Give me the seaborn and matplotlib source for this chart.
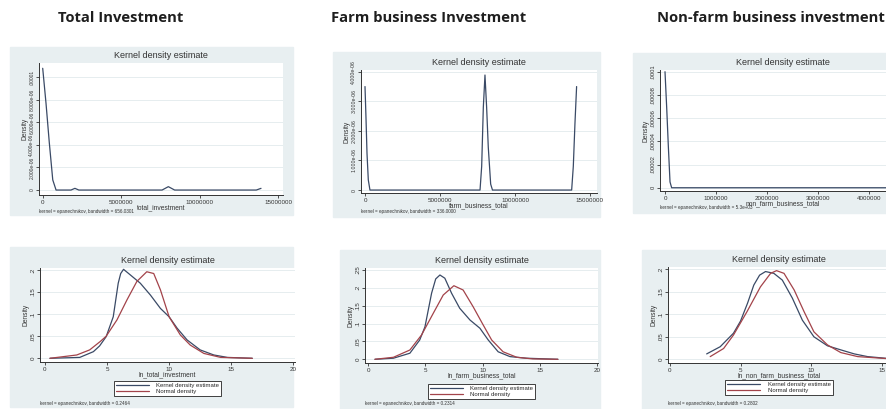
import matplotlib
matplotlib.use("Agg")
import pandas as pd
import matplotlib.pyplot as plt
from matplotlib.patches import Rectangle
from matplotlib.lines import Line2D
import seaborn as sns

W, H = 887, 409

headings = ["Total Investment", "Farm business Investment", "Non-farm business investment"]

# top row: kernel density of the raw amounts
raw_vars = ["total_investment", "farm_business_total", "non_farm_business_total"]
raw_notes = ["kernel = epanechnikov, bandwidth = 656.0301",
             "kernel = epanechnikov, bandwidth = 336.0000",
             "kernel = epanechnikov, bandwidth = 5.3e+03"]

tot_x = [0, 2.1e5, 4.2e5, 6.4e5, 8.5e5, 1.8e6, 2.05e6, 2.3e6, 7.6e6, 8.0e6, 8.4e6, 1.36e7, 1.39e7]
tot_d = [1.08e-5, 7.7e-6, 4.2e-6, 0.9e-6, 0, 0, 1.5e-7, 0, 0, 3e-7, 0, 0, 1.5e-7]

farm_x = [0, 6.7e4, 1.33e5, 2.2e5, 3.3e5, 7.67e6, 7.78e6, 7.89e6, 8.0e6, 8.11e6, 8.22e6,
          8.38e6, 8.5e6, 1.378e7, 1.389e7, 1.4e7, 1.411e7]
farm_d = [3.5e-6, 2.42e-6, 1.24e-6, 0.34e-6, 0, 0, 0.8e-6, 2.8e-6, 3.89e-6, 2.8e-6, 1.45e-6,
          0.2e-6, 0, 0, 0.8e-6, 2.25e-6, 3.5e-6]

nonfarm_x = [0, 3.3e4, 6.5e4, 9.8e4, 1.3e5, 4.6e6]
nonfarm_d = [1.0e-4, 6.9e-5, 3.6e-5, 0.5e-5, 0, 0]

raw_xticks = [[0, 5e6, 1e7, 1.5e7], [0, 5e6, 1e7, 1.5e7], [0, 1e6, 2e6, 3e6, 4e6]]
raw_xticklabels = [["0", "5000000", "10000000", "15000000"],
                   ["0", "5000000", "10000000", "15000000"],
                   ["0", "1000000", "2000000", "3000000", "4000000"]]
raw_yticks = [[0, 2e-6, 4e-6, 6e-6, 8e-6, 1e-5],
              [0, 1e-6, 2e-6, 3e-6, 4e-6],
              [0, 2e-5, 4e-5, 6e-5, 8e-5, 1e-4]]
raw_yticklabels = [["0", "2.000e-06", "4.000e-06", "6.000e-06", "8.000e-06", ".00001"],
                   ["0", "1.000e-06", "2.000e-06", "3.000e-06", "4.000e-06"],
                   ["0", ".00002", ".00004", ".00006", ".00008", ".0001"]]

# bottom row: kernel density of the logs with normal overlay
ln_vars = ["ln_total_investment", "ln_farm_business_total", "ln_non_farm_business_total"]
ln_notes = ["kernel = epanechnikov, bandwidth = 0.2464",
            "kernel = epanechnikov, bandwidth = 0.2314",
            "kernel = epanechnikov, bandwidth = 0.2802"]

lt_kx = [0.4, 2.8, 3.9, 4.4, 4.93, 5.5, 5.9, 6.1, 6.33, 6.74, 7.68, 8.5, 9.3, 10.0, 10.65, 11.45,
         12.5, 13.6, 14.7, 16.7]
lt_kd = [0.0, 0.002, 0.015, 0.028, 0.049, 0.094, 0.17, 0.192, 0.2015, 0.192, 0.17, 0.143, 0.113,
         0.094, 0.068, 0.0415, 0.019, 0.0075, 0.002, 0.0]
lt_nx = [0.4, 2.56, 3.6, 4.45, 4.93, 5.8, 6.6, 7.4, 8.2, 8.76, 9.3, 10.0, 10.9, 11.7, 12.8, 14.15, 16.7]
lt_nd = [0.0, 0.0075, 0.019, 0.038, 0.05, 0.087, 0.132, 0.174, 0.196, 0.192, 0.155, 0.094, 0.053,
         0.03, 0.011, 0.002, 0.0]

lf_kx = [0.58, 2.2, 3.64, 4.5, 4.96, 5.54, 5.9, 6.27, 6.7, 7.29, 8.0, 8.9, 9.77, 10.5, 11.37, 12.4,
         13.85, 16.6]
lf_kd = [0.0, 0.003, 0.017, 0.054, 0.091, 0.185, 0.225, 0.236, 0.227, 0.185, 0.143, 0.11, 0.087,
         0.054, 0.021, 0.0075, 0.003, 0.0]
lf_nx = [0.58, 2.2, 3.64, 4.66, 5.69, 6.56, 7.49, 8.3, 9.18, 10.06, 10.8, 11.8, 13.0, 14.4, 16.6]
lf_nd = [0.0, 0.0056, 0.026, 0.068, 0.129, 0.18, 0.206, 0.194, 0.147, 0.096, 0.054, 0.021, 0.0056,
         0.001, 0.0]

ln_kx = [2.6, 3.56, 4.5, 5.0, 5.5, 5.94, 6.35, 6.77, 7.36, 7.96, 8.67, 9.38, 10.2, 11.16, 12.1,
         13.06, 14.0, 15.4, 16.0]
ln_kd = [0.012, 0.028, 0.058, 0.085, 0.125, 0.165, 0.187, 0.195, 0.191, 0.176, 0.136, 0.087, 0.05,
         0.03, 0.021, 0.012, 0.006, 0.002, 0.001]
ln_nx = [2.85, 3.8, 4.5, 5.46, 6.41, 7.13, 7.55, 8.08, 8.8, 9.5, 10.2, 11.16, 12.1, 13.3, 15.4, 16.0]
ln_nd = [0.006, 0.024, 0.054, 0.106, 0.161, 0.191, 0.197, 0.191, 0.154, 0.106, 0.061, 0.032, 0.015,
         0.006, 0.0015, 0.001]

ln_xticks = [[0, 5, 10, 15, 20], [0, 5, 10, 15, 20], [0, 5, 10, 15]]
ln_yticks = [[0, .05, .1, .15, .2], [0, .05, .1, .15, .2, .25], [0, .05, .1, .15, .2]]
ln_yticklabels = [["0", ".05", ".1", ".15", ".2"], ["0", ".05", ".1", ".15", ".2", ".25"],
                  ["0", ".05", ".1", ".15", ".2"]]
curve_names = ["Kernel density estimate", "Normal density"]

KCOL = "#3a4a66"
NCOL = "#a3434a"
BG = "#e8eff1"
AXC = "#333333"

sns.set_theme(style="white")
plt.rcParams["font.family"] = ["Liberation Sans", "DejaVu Sans"]

fig = plt.figure(figsize=(W / 100, H / 100), dpi=100)


def px_box(l, t, r, b):
    return [l / W, 1 - b / H, (r - l) / W, (b - t) / H]


def stata_axes(ax, xlim, ylim, xt, xtl, yt, ytl, xlabel, ysize=4.5):
    ax.set_facecolor("white")
    for s in ["top", "right"]:
        ax.spines[s].set_visible(False)
    for s in ["left", "bottom"]:
        ax.spines[s].set_color(AXC)
        ax.spines[s].set_linewidth(0.7)
    ax.set_xlim(xlim)
    ax.set_ylim(ylim)
    ax.set_xticks(xt, xtl)
    ax.set_yticks(yt, ytl)
    ax.tick_params(direction="out", length=2.5, width=0.6, labelsize=4.5, pad=0.8,
                   colors=AXC, bottom=True, left=True)
    ax.tick_params(axis="y", labelrotation=90, labelsize=ysize)
    for lab in ax.get_yticklabels():
        lab.set_va("center")
    ax.grid(axis="y", color="#e2eaed", lw=0.6)
    ax.set_axisbelow(True)
    ax.set_xlabel(xlabel, fontsize=4.8, labelpad=-0.5, color=AXC)
    ax.set_ylabel("Density", fontsize=4.8, labelpad=1, color=AXC)
    ax.set_title("Kernel density estimate", fontsize=6.5, pad=3.5, color=AXC)


# grey graph regions
bgs = [(10, 47, 293, 215), (333, 52, 600, 217), (633, 53, 887, 213),
       (10, 247, 293, 407), (340, 250, 600, 409), (642, 250, 887, 409)]
for l, t, r, b in bgs:
    fig.add_artist(Rectangle((l / W, 1 - b / H), (r - l) / W, (b - t) / H,
                             transform=fig.transFigure, color=BG, zorder=0))

# headings
for txt, cx in zip(headings, [121, 429, 771]):
    fig.text(cx / W, 1 - 18 / H, txt, ha="center", va="center", fontsize=10.6,
             fontweight="bold", family=["Open Sans", "DejaVu Sans"], color="#1e1e1e")

top_boxes = [(39, 63, 283, 195), (361, 70, 597, 193), (660, 70, 905, 191)]
top_lims = [((-2.36e5, 1.53e7), (-4.4e-7, 1.127e-5)),
            ((-2.67e5, 1.547e7), (-1.0e-7, 4.06e-6)),
            ((-9.8e4, 4.699e6), (-2.8e-6, 1.0147e-4))]
top_data = [(tot_x, tot_d), (farm_x, farm_d), (nonfarm_x, nonfarm_d)]
top_notes_y = [212, 212, 208]
top_ysize = [3.5, 3.8, 4.2]

for i in range(3):
    ax = fig.add_axes(px_box(*top_boxes[i]))
    x, d = top_data[i]
    sns.lineplot(x=x, y=d, ax=ax, color=KCOL, lw=0.9, estimator=None, sort=False)
    stata_axes(ax, top_lims[i][0], top_lims[i][1], raw_xticks[i], raw_xticklabels[i],
               raw_yticks[i], raw_yticklabels[i], raw_vars[i], ysize=top_ysize[i])
    fig.text(top_boxes[i][0] / W, 1 - top_notes_y[i] / H, raw_notes[i], fontsize=3.3,
             color=AXC, va="center")

bot_boxes = [(40, 268, 295, 362), (365, 268, 598, 363), (668, 267, 890, 363)]
bot_lims = [((-0.40, 20.14), (-0.0084, 0.2045)),
            ((-0.29, 20.11), (-0.0104, 0.2556)),
            ((-0.14, 15.59), (-0.0082, 0.2051))]
bot_data = [(lt_kx, lt_kd, lt_nx, lt_nd), (lf_kx, lf_kd, lf_nx, lf_nd),
            (ln_kx, ln_kd, ln_nx, ln_nd)]
legend_top = [378, 381, 377]

for i in range(3):
    ax = fig.add_axes(px_box(*bot_boxes[i]))
    kx, kd, nx, nd = bot_data[i]
    df = pd.concat([
        pd.DataFrame({"x": kx, "density": kd, "curve": curve_names[0]}),
        pd.DataFrame({"x": nx, "density": nd, "curve": curve_names[1]}),
    ])
    sns.lineplot(data=df, x="x", y="density", hue="curve",
                 palette={curve_names[0]: KCOL, curve_names[1]: NCOL},
                 ax=ax, lw=0.9, estimator=None, legend=False)
    stata_axes(ax, bot_lims[i][0], bot_lims[i][1], ln_xticks[i],
               [str(v) for v in ln_xticks[i]], ln_yticks[i], ln_yticklabels[i], ln_vars[i])
    l, t, r, b = bot_boxes[i]
    handles = [Line2D([], [], color=KCOL, lw=0.9), Line2D([], [], color=NCOL, lw=0.9)]
    leg = ax.legend(handles, curve_names, loc="upper center",
                    bbox_to_anchor=(0.5, (b - legend_top[i]) / (b - t)),
                    fontsize=4.3, handlelength=5.5, handletextpad=1.2, borderpad=0.35,
                    labelspacing=0.1, fancybox=False, framealpha=1, edgecolor="#222222",
                    frameon=True)
    leg.get_frame().set_linewidth(0.6)
    fig.text(l / W, 1 - 404 / H, ln_notes[i], fontsize=3.3, color=AXC, va="center")

fig.savefig("out.png", dpi=100)
